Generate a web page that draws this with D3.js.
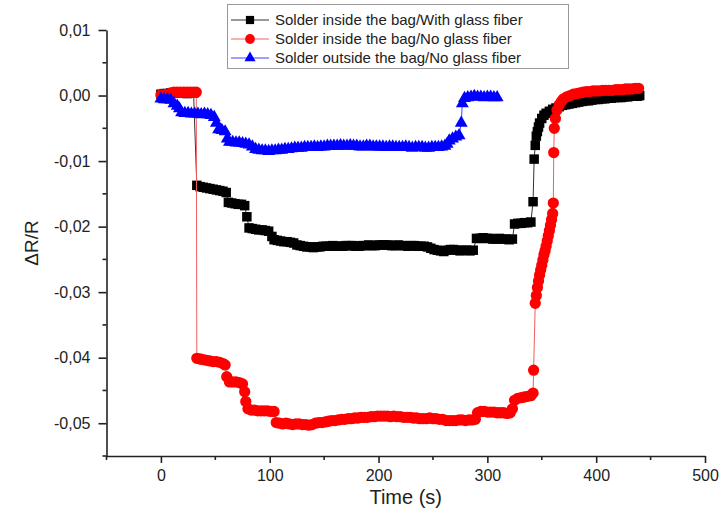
<!DOCTYPE html>
<html>
<head>
<meta charset="utf-8">
<script src="https://cdn.jsdelivr.net/npm/d3@7"></script>
<style>
    body { margin: 0; background: #fff; }
    svg text { font-family: "Liberation Sans", Arial, sans-serif; fill: #222; }
</style>
</head>
<body>
<div id="chart"></div>
<script>
// Données : temps (s) et ΔR/R

// Solder inside the bag / With glass fiber
const blackTime = [0, 3, 6, 9, 12, 15, 18, 21, 24, 27, 30, 33, 36, 39, 42, 45, 48, 51, 54, 57, 60,
    62, 65, 68, 71, 74, 77, 79, 81, 84, 87, 90, 93, 96, 99, 102, 104, 107, 110, 113, 116, 119, 122,
    125, 128, 131, 134, 137, 140, 143, 146, 149, 152, 155, 158, 161, 164, 167, 170, 173, 176, 179,
    182, 185, 188, 191, 194, 197, 200, 203, 206, 209, 212, 215, 218, 221, 224, 227, 230, 233, 236,
    239, 242, 245, 248, 251, 254, 257, 260, 263, 266, 269, 272, 275, 278, 281, 284, 287, 290, 293,
    296, 299, 302, 305, 308, 311, 314, 317, 320, 323, 325, 328, 331, 334, 337, 340, 342, 343, 344,
    345, 346, 347, 348, 350, 352, 354, 357, 360, 363, 366, 369, 372, 375, 378, 381, 384, 387, 390,
    393, 396, 399, 402, 405, 408, 411, 414, 417, 420, 423, 426, 429, 432, 435, 438, 440];
const blackDelta = [0.0002, 0.0003, 0.0003, 0.0004, 0.0004, 0.0004, 0.0004, 0.0004, 0.0003, 0.0004, 0.0004,
    -0.0137, -0.0139, -0.0140, -0.0141, -0.0142, -0.0143, -0.0144, -0.0145, -0.0146, -0.0148,
    -0.0163, -0.0164, -0.0165, -0.0166, -0.0166, -0.0168, -0.0185, -0.0202, -0.0203, -0.0204, -0.0205,
    -0.0205, -0.0206, -0.0207, -0.0215, -0.0220, -0.0221, -0.0222, -0.0223, -0.0223, -0.0224, -0.0225,
    -0.0228, -0.0229, -0.0230, -0.0231, -0.0231, -0.0232, -0.0231, -0.0231, -0.0230, -0.0230, -0.0230,
    -0.0229, -0.0230, -0.0230, -0.0230, -0.0229, -0.0229, -0.0229, -0.0230, -0.0230, -0.0229, -0.0229,
    -0.0228, -0.0229, -0.0229, -0.0228, -0.0228, -0.0228, -0.0228, -0.0229, -0.0229, -0.0228, -0.0229,
    -0.0229, -0.0230, -0.0229, -0.0229, -0.0230, -0.0230, -0.0230, -0.0231, -0.0233, -0.0235, -0.0236,
    -0.0237, -0.0238, -0.0236, -0.0235, -0.0235, -0.0236, -0.0237, -0.0236, -0.0236, -0.0237, -0.0236,
    -0.0218, -0.0218, -0.0217, -0.0218, -0.0218, -0.0219, -0.0219, -0.0218, -0.0219, -0.0219, -0.0220,
    -0.0219, -0.0196, -0.0195, -0.0195, -0.0194, -0.0194, -0.0193, -0.0162, -0.0097, -0.0076,
    -0.0062, -0.0055, -0.0048, -0.0042, -0.0035, -0.0030, -0.0027, -0.0024, -0.0021, -0.0019, -0.0017,
    -0.0015, -0.0014, -0.0013, -0.0012, -0.0011, -0.0010, -0.0009, -0.0008, -0.0008, -0.0007, -0.0006,
    -0.0006, -0.0005, -0.0005, -0.0004, -0.0004, -0.0003, -0.0003, -0.0003, -0.0002, -0.0002, -0.0001,
    -0.0001, -0.0001, 0.0000];

// Solder inside the bag / No glass fiber
const redTime = [0, 3, 6, 9, 12, 15, 18, 21, 24, 27, 30, 32.5, 33, 36, 39, 42, 45, 48, 51, 54, 57, 59,
    60.5, 63, 66, 69, 72, 75, 77, 78, 80, 83, 86, 89, 92, 95, 98, 101, 104, 106, 109, 112, 115, 118,
    121, 124, 127, 130, 133, 136, 139, 142, 145, 148, 151, 154, 157, 160, 163, 166, 169, 172, 175, 178,
    181, 184, 187, 190, 193, 196, 199, 202, 205, 208, 211, 214, 217, 220, 223, 226, 229, 232, 235, 238,
    241, 244, 247, 250, 253, 256, 259, 262, 265, 268, 271, 274, 277, 280, 283, 286, 289, 291, 294, 297,
    300, 303, 306, 309, 312, 315, 318, 321, 323, 325, 328, 331, 334, 337, 340, 342, 342.5, 344, 345,
    346, 347, 348, 349, 350, 351, 352, 353, 354, 355, 356, 357, 358, 359, 360, 360.6, 361, 361.5,
    362.5, 364, 366, 368, 370, 373, 376, 379, 382, 385, 388, 391, 394, 397, 400, 403, 406, 409, 412,
    415, 418, 421, 424, 427, 430, 433, 436, 439];
const redDelta = [0.0001, 0.0001, 0.0002, 0.0004, 0.0005, 0.0005, 0.0005, 0.0005, 0.0005, 0.0005, 0.0005, 0.0005,
    -0.0401, -0.0402, -0.0403, -0.0404, -0.0405, -0.0406, -0.0406, -0.0407, -0.0409, -0.0411,
    -0.0429, -0.0437, -0.0437, -0.0437, -0.0438, -0.0440, -0.0452, -0.0467, -0.0478, -0.0480, -0.0480,
    -0.0481, -0.0481, -0.0481, -0.0481, -0.0482, -0.0482, -0.0499, -0.0500, -0.0501, -0.0500, -0.0501,
    -0.0502, -0.0501, -0.0501, -0.0502, -0.0502, -0.0503, -0.0502, -0.0500, -0.0499, -0.0499, -0.0498,
    -0.0497, -0.0496, -0.0496, -0.0495, -0.0494, -0.0494, -0.0493, -0.0493, -0.0492, -0.0492, -0.0491,
    -0.0491, -0.0491, -0.0490, -0.0490, -0.0489, -0.0489, -0.0489, -0.0489, -0.0490, -0.0489, -0.0490,
    -0.0490, -0.0491, -0.0491, -0.0491, -0.0492, -0.0492, -0.0493, -0.0493, -0.0493, -0.0492, -0.0493,
    -0.0493, -0.0494, -0.0494, -0.0496, -0.0496, -0.0496, -0.0496, -0.0495, -0.0495, -0.0496, -0.0495,
    -0.0495, -0.0494, -0.0484, -0.0482, -0.0482, -0.0483, -0.0483, -0.0483, -0.0484, -0.0484, -0.0484,
    -0.0485, -0.0484, -0.0478, -0.0465, -0.0462, -0.0461, -0.0460, -0.0459, -0.0458, -0.0454, -0.0419,
    -0.0317, -0.0305, -0.0293, -0.0283, -0.0274, -0.0266, -0.0259, -0.0251, -0.0243, -0.0237, -0.0230,
    -0.0222, -0.0214, -0.0206, -0.0198, -0.0189, -0.0180, -0.0164, -0.0087, -0.0050, -0.0035, -0.0022,
    -0.0014, -0.0009, -0.0005, -0.0002, 0.0000, 0.0002, 0.0003, 0.0004, 0.0005, 0.0006, 0.0006, 0.0007,
    0.0007, 0.0007, 0.0008, 0.0008, 0.0008, 0.0008, 0.0009, 0.0009, 0.0009, 0.0010, 0.0010, 0.0010,
    0.0011, 0.0011];

// Solder outside the bag / No glass fiber
const blueTime = [0, 3, 6, 9, 12, 15, 17, 19, 22, 25, 28, 31, 34, 37, 40, 43, 46, 49, 51, 53, 56, 59,
    61, 63, 66, 69, 72, 75, 78, 81, 84, 87, 90, 93, 96, 99, 102, 105, 108, 111, 114, 117, 120, 123,
    126, 129, 132, 135, 138, 141, 144, 147, 150, 153, 156, 159, 162, 165, 168, 171, 174, 177, 180, 183,
    186, 189, 192, 195, 198, 201, 204, 207, 210, 213, 216, 219, 222, 225, 228, 231, 234, 237, 240, 243,
    246, 249, 252, 255, 258, 261, 263, 265, 268, 271, 274, 276, 277, 279, 282, 285, 288, 291, 294, 297,
    300, 303, 306, 309];
const blueDelta = [-0.0005, -0.0006, -0.0006, -0.0007, -0.0012, -0.0016, -0.0020, -0.0026, -0.0027, -0.0027,
    -0.0028, -0.0028, -0.0028, -0.0029, -0.0028, -0.0029, -0.0030, -0.0033, -0.0042, -0.0052, -0.0053,
    -0.0055, -0.0066, -0.0071, -0.0071, -0.0072, -0.0072, -0.0073, -0.0074, -0.0075, -0.0078, -0.0082,
    -0.0083, -0.0084, -0.0084, -0.0085, -0.0084, -0.0084, -0.0083, -0.0083, -0.0082, -0.0082, -0.0081,
    -0.0080, -0.0080, -0.0080, -0.0079, -0.0079, -0.0079, -0.0078, -0.0079, -0.0078, -0.0078, -0.0077,
    -0.0077, -0.0077, -0.0077, -0.0076, -0.0077, -0.0077, -0.0076, -0.0077, -0.0077, -0.0078, -0.0078,
    -0.0077, -0.0077, -0.0078, -0.0078, -0.0078, -0.0078, -0.0079, -0.0078, -0.0078, -0.0079, -0.0079,
    -0.0079, -0.0078, -0.0079, -0.0080, -0.0079, -0.0079, -0.0079, -0.0080, -0.0080, -0.0079, -0.0079,
    -0.0079, -0.0078, -0.0077, -0.0074, -0.0069, -0.0066, -0.0063, -0.0061, -0.0042, -0.0012, -0.0004,
    -0.0003, -0.0002, -0.0001, -0.0002, -0.0002, -0.0003, -0.0002, -0.0002, -0.0003, -0.0003];

const seriesLabels = [
    "Solder inside the bag/With glass fiber",
    "Solder inside the bag/No glass fiber",
    "Solder outside the bag/No glass fiber"
];

// Graduations
const xMajorTicks = [0, 100, 200, 300, 400, 500];
const xMinorTicks = [-50, 50, 150, 250, 350, 450];
const yMajorTicks = [0.01, 0.00, -0.01, -0.02, -0.03, -0.04, -0.05];
const yMinorTicks = [0.005, -0.005, -0.015, -0.025, -0.035, -0.045, -0.055];


// Constantes
const width = 721, height = 519;
const axisColor = "#222";

const svg = d3.select("#chart")
    .append("svg")
    .attr("width", width)
    .attr("height", height);

svg.append("rect").attr("width", width).attr("height", height).attr("fill", "#fff");

const x = d3.scaleLinear().domain([-50, 500]).range([106.5, 705]);
const y = d3.scaleLinear().domain([-0.055, 0.01]).range([456, 30]);

const commaFormat = d => d3.format(".2f")(d).replace("\u2212", "-").replace(".", ",");

// --- Axes ---
const xAxis = svg.append("g")
    .attr("transform", "translate(0," + y(-0.055) + ")")
    .call(d3.axisBottom(x).tickValues(xMajorTicks).tickSize(7).tickPadding(7).tickSizeOuter(0));
xAxis.selectAll(".tick text").attr("font-size", 16);

xAxis.selectAll(".minor")
    .data(xMinorTicks)
    .join("line")
    .attr("class", "minor")
    .attr("x1", d => x(d)).attr("x2", d => x(d))
    .attr("y1", 0).attr("y2", 4);

const yAxis = svg.append("g")
    .attr("transform", "translate(" + x(-50) + ",0)")
    .call(d3.axisLeft(y).tickValues(yMajorTicks).tickFormat(commaFormat)
        .tickSize(8).tickPadding(8).tickSizeOuter(0));
yAxis.selectAll(".tick text").attr("font-size", 16);

yAxis.selectAll(".minor")
    .data(yMinorTicks)
    .join("line")
    .attr("class", "minor")
    .attr("x1", 0).attr("x2", -4)
    .attr("y1", d => y(d)).attr("y2", d => y(d));

svg.selectAll(".domain, .tick line, .minor")
    .attr("stroke", axisColor)
    .attr("stroke-width", 1.6);

// Titres des axes
svg.append("text")
    .attr("x", (x(-50) + x(500)) / 2)
    .attr("y", 504)
    .attr("text-anchor", "middle")
    .attr("font-size", 20)
    .text("Time (s)");

svg.append("text")
    .attr("transform", "translate(38," + (y(-0.055) + y(0.01)) / 2 + ") rotate(-90)")
    .attr("text-anchor", "middle")
    .attr("font-size", 19)
    .text("\u0394R/R");

// --- Séries ---
const series = [
    {label: seriesLabels[0], time: blackTime, delta: blackDelta, color: "#000000", line: "#333",
        symbol: d3.symbolSquare, size: 90},
    {label: seriesLabels[1], time: redTime, delta: redDelta, color: "#ff0000", line: "#f06060",
        symbol: d3.symbolCircle, size: 100},
    {label: seriesLabels[2], time: blueTime, delta: blueDelta, color: "#0000ff", line: "#4040ff",
        symbol: d3.symbolTriangle, size: 72}
];

const line = d3.line()
    .x(d => x(d[0]))
    .y(d => y(d[1]));

series.forEach(s => {
    const points = s.time.map((t, i) => [t, s.delta[i]]);
    const g = svg.append("g");

    g.append("path")
        .datum(points)
        .attr("fill", "none")
        .attr("stroke", s.line)
        .attr("stroke-width", 1)
        .attr("d", line);

    g.selectAll("path.marker")
        .data(points)
        .join("path")
        .attr("class", "marker")
        .attr("transform", d => "translate(" + x(d[0]) + "," + y(d[1]) + ")")
        .attr("d", d3.symbol().type(s.symbol).size(s.size))
        .attr("fill", s.color);
});

// --- Légende ---
const legend = svg.append("g");

legend.append("rect")
    .attr("x", 227.5).attr("y", 4.5)
    .attr("width", 341).attr("height", 64)
    .attr("fill", "#fff")
    .attr("stroke", "#999")
    .attr("stroke-width", 1);

series.forEach((s, i) => {
    const ly = 20 + i * 19;
    legend.append("line")
        .attr("x1", 231).attr("x2", 269)
        .attr("y1", ly).attr("y2", ly)
        .attr("stroke", s.line)
        .attr("stroke-width", 1);
    legend.append("path")
        .attr("transform", "translate(250," + ly + ")")
        .attr("d", d3.symbol().type(s.symbol).size(s.size * 0.75))
        .attr("fill", s.color);
    legend.append("text")
        .attr("x", 275).attr("y", ly)
        .attr("dy", "0.35em")
        .attr("font-size", 15)
        .text(s.label);
});
</script>
</body>
</html>
